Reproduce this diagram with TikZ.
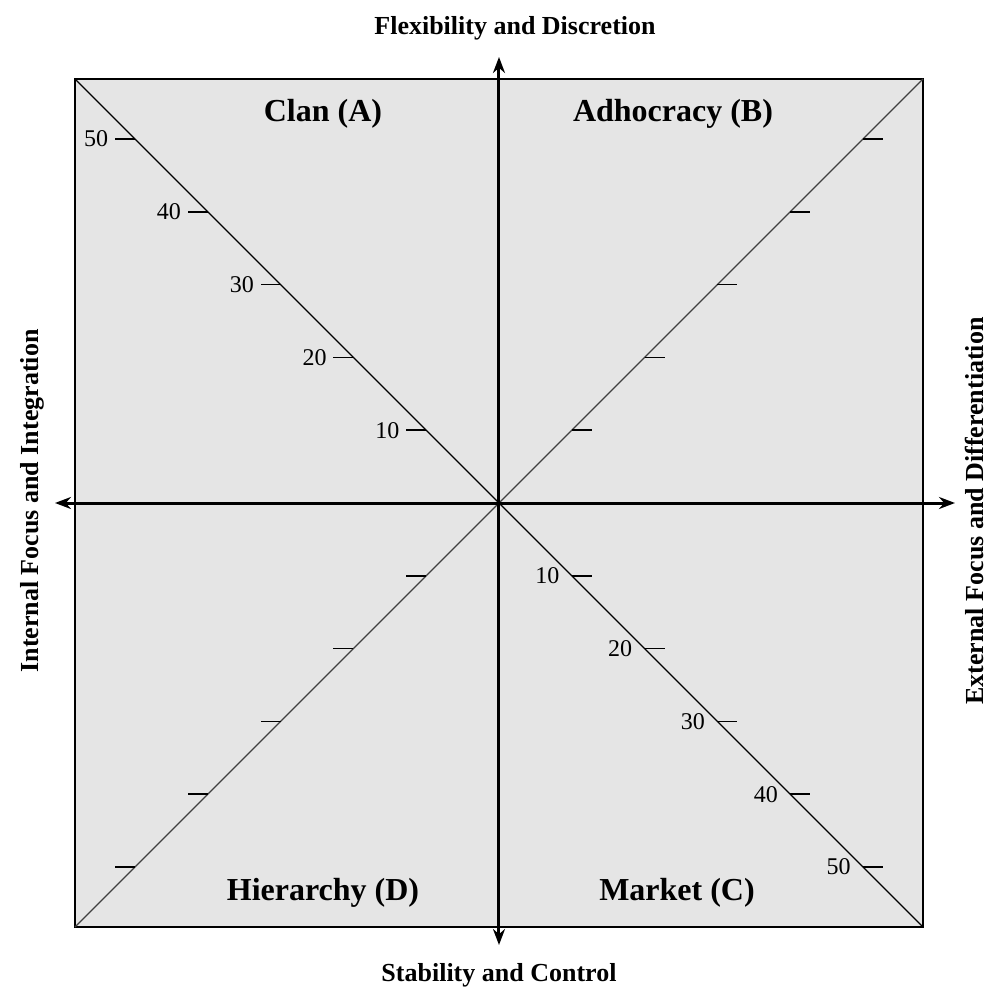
\documentclass[tikz,border=0pt]{standalone}
\usepackage{fontspec}
\setmainfont{Liberation Serif}
\usepackage{xcolor}
\usepackage{tikz}
\usetikzlibrary{arrows.meta, positioning}
\definecolor{quadfill}{gray}{0.9}

\begin{document}
\begin{tikzpicture}[
      x=0.5pt, y=0.5pt,
      axis/.style={line width=1.5pt,
                   {Stealth[length=8pt,width=6pt]}-{Stealth[length=8pt,width=6pt]}},
      diag/.style={line width=0.6pt},
      tickmark/.style={line width=0.8pt},
      quad/.style={font=\fontsize{16}{19}\selectfont\bfseries},
      axlabel/.style={font=\fontsize{13}{16}\selectfont\bfseries},
      num/.style={font=\fontsize{12}{14}\selectfont, anchor=east, inner sep=0pt}
    ]
    \useasboundingbox (-499,-489) rectangle (490,503);

    \coordinate (nw) at (-424,424);
    \coordinate (ne) at (424,424);
    \coordinate (sw) at (-424,-424);
    \coordinate (se) at (424,-424);
    \filldraw[fill=quadfill, draw=black, line width=0.8pt] (sw) rectangle (ne);

    \draw[diag] (nw) -- (se);
    \draw[diag, black!75] (sw) -- (ne);

    \coordinate (top)    at (0,446);
    \coordinate (bottom) at (0,-442);
    \coordinate (left)   at (-444,0);
    \coordinate (right)  at (456,0);
    \draw[axis] (bottom) -- (top);
    \draw[axis] (left) -- (right);

    \foreach \k [evaluate=\k as \d using 72.8*\k] in {1,...,5} {
      \draw[tickmark] (-\d,\d) -- ++(-20,0)
        node[num, xshift=-3pt] (clan\k) {\k0};
      \draw[tickmark] (\d,\d) -- ++(20,0);
      \draw[tickmark] (-\d,-\d) -- ++(-20,0);
      \draw[tickmark] (\d,-\d) -- ++(20,0);
      \node[num, xshift=-6pt] (market\k) at (\d,-\d) {\k0};
    }

    \node[quad] (clan)  at (-176,389)  {Clan (A)};
    \node[quad] (adhoc) at (174,389)   {Adhocracy (B)};
    \node[quad] (hier)  at (-176,-390) {Hierarchy (D)};
    \node[quad] (mkt)   at (178,-390)  {Market (C)};

    \node[axlabel] (flex) at (16,475)  {Flexibility and Discretion};
    \node[axlabel] (stab) at (0,-472)  {Stability and Control};
    \node[axlabel, rotate=90] (internal) at (-467,2)
      {Internal Focus and Integration};
    \node[axlabel, rotate=90] (external) at (476,-8)
      {External Focus and Differentiation};
  \end{tikzpicture}
\end{document}
